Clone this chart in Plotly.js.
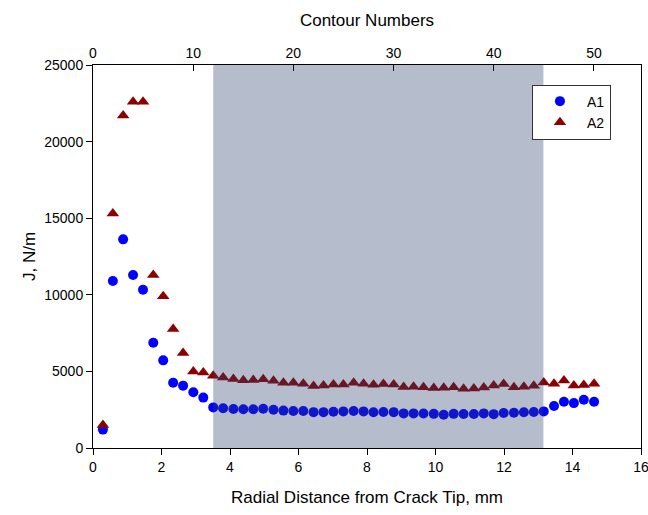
<!DOCTYPE html>
<html>
<head>
<meta charset="utf-8">
<script src="https://cdn.plot.ly/plotly-3.0.1.min.js"></script>
<style>html,body{margin:0;padding:0;background:#fff;}#chart{width:648px;height:515px;}</style>
</head>
<body>
<div id="chart"></div>
<script>
// Contour numbers 1..50
var contours = [1,2,3,4,5,6,7,8,9,10,11,12,13,14,15,16,17,18,19,20,21,22,23,24,25,26,27,28,29,30,31,32,33,34,35,36,37,38,39,40,41,42,43,44,45,46,47,48,49,50];
// Radial distance from crack tip (mm) of each contour
var radialMm = [0.29,0.58,0.88,1.17,1.46,1.76,2.05,2.34,2.63,2.93,3.22,3.51,3.80,4.10,4.39,4.68,4.97,5.27,5.56,5.85,6.14,6.44,6.73,7.02,7.31,7.61,7.90,8.19,8.48,8.78,9.07,9.36,9.65,9.95,10.24,10.53,10.82,11.12,11.41,11.70,11.99,12.29,12.58,12.87,13.16,13.46,13.75,14.04,14.33,14.63];
// J-integral values (N/m)
var jA1 = [1200,10900,13620,11290,10330,6870,5720,4260,4070,3640,3290,2650,2590,2550,2530,2530,2560,2500,2440,2420,2410,2340,2340,2370,2390,2410,2390,2330,2350,2340,2260,2260,2250,2230,2170,2230,2220,2220,2260,2210,2280,2300,2330,2350,2390,2740,3020,2930,3150,3020];
var jA2 = [1500,15300,21700,22600,22600,11300,9900,7770,6200,5000,4930,4720,4600,4500,4420,4440,4480,4390,4260,4260,4190,4040,4080,4140,4150,4260,4200,4130,4170,4150,3980,4000,3970,3920,3930,3960,3860,3880,3950,4080,4170,3960,4000,4070,4280,4200,4400,4080,4120,4190];
// Shaded (path-independent) band, mm
var bandMm = [3.51, 13.15];
var xTicks = [0,2,4,6,8,10,12,14,16];
var yTicks = [0,5000,10000,15000,20000,25000];
var topTicks = [0,10,20,30,40,50];

var font = "Liberation Sans, Arial, sans-serif";

var traces = [
  {x: radialMm, y: jA1, name: 'A1', mode: 'markers', type: 'scatter',
   marker: {symbol: 'circle', size: 10, color: '#0000ff'}},
  {x: radialMm, y: jA2, name: 'A2', mode: 'markers', type: 'scatter',
   marker: {symbol: 'triangle-up', size: 11, color: '#8b0000'}},
  {x: contours, y: jA1, xaxis: 'x2', mode: 'markers', type: 'scatter',
   showlegend: false, hoverinfo: 'skip', marker: {opacity: 0}}
];

var layout = {
  width: 648, height: 515,
  margin: {l: 93, r: 7, t: 65, b: 67},
  paper_bgcolor: '#fff', plot_bgcolor: '#fff',
  font: {family: font, size: 14, color: '#000'},
  showlegend: true,
  legend: {x: 0.801, y: 0.949, xanchor: 'left', yanchor: 'top',
           bgcolor: '#fff', bordercolor: '#333', borderwidth: 1,
           font: {family: font, size: 14, color: '#000'},
           itemwidth: 44, tracegroupgap: 0},
  xaxis: {range: [0, 16], tickvals: xTicks, ticks: 'outside', ticklen: 6, tickcolor: '#000',
          showline: true, linecolor: '#000', linewidth: 1, showgrid: false, zeroline: false,
          ticklabeloverflow: 'allow',
          tickfont: {family: font, size: 14},
          title: {text: 'Radial Distance from Crack Tip, mm', font: {family: font, size: 17}, standoff: 17}},
  xaxis2: {overlaying: 'x', side: 'top', range: [0, 16 / 0.2925], tickvals: topTicks,
           ticks: 'inside', ticklen: 6, tickcolor: '#000',
           showline: true, linecolor: '#000', linewidth: 1, showgrid: false, zeroline: false,
           tickfont: {family: font, size: 14},
           title: {text: 'Contour Numbers', font: {family: font, size: 17}, standoff: 14}},
  yaxis: {range: [0, 25000], tickvals: yTicks, tickformat: 'd', ticks: 'outside', ticklen: 6, tickcolor: '#000',
          showline: true, mirror: true, linecolor: '#000', linewidth: 1, showgrid: false, zeroline: false,
          tickfont: {family: font, size: 14},
          title: {text: 'J, N/m', font: {family: font, size: 17}, standoff: 4}},
  shapes: [{type: 'rect', xref: 'x', yref: 'paper', x0: bandMm[0], x1: bandMm[1], y0: 0, y1: 1,
            fillcolor: 'rgba(44,64,109,0.35)', line: {width: 0}, layer: 'above'}]
};

Plotly.newPlot('chart', traces, layout, {displayModeBar: false, staticPlot: true});
</script>
</body>
</html>
